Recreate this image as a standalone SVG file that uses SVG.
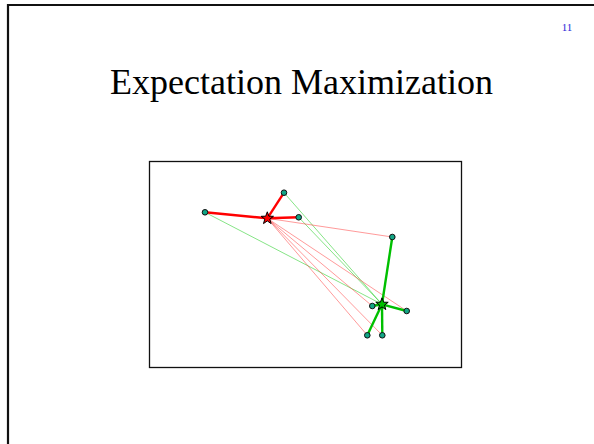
<svg xmlns="http://www.w3.org/2000/svg" width="594" height="444" viewBox="0 0 594 444">
<defs>
<style>
.frame{fill:none;stroke:#111;stroke-width:2.2}
.box{fill:none;stroke:#111;stroke-width:1.3}
.pt{fill:#12a585;stroke:#111;stroke-width:1}
.tr{stroke:#ff3030;stroke-opacity:0.55;stroke-width:0.9;fill:none}
.tg{stroke:#30d030;stroke-opacity:0.65;stroke-width:0.9;fill:none}
.kr{stroke:#ff0000;stroke-width:2.4;fill:none}
.kg{stroke:#00c000;stroke-width:2.4;fill:none}
.title{font-family:"Liberation Serif","Times New Roman",serif;font-size:36px;fill:#000}
.num{font-family:"Liberation Serif","Times New Roman",serif;font-size:11px;fill:#2828d8}
</style>
<polygon id="star" points="0,-6.5 1.6,-2.1 6.2,-2 2.5,0.8 3.8,5.3 0,2.6 -3.8,5.3 -2.5,0.8 -6.2,-2 -1.6,-2.1" stroke="#000" stroke-width="1"/>
</defs>
<rect width="594" height="444" fill="#fff"/>
<path class="frame" d="M8,444 V5 H594"/>
<text class="num" x="567" y="31" text-anchor="middle">11</text>
<text class="title" x="301.5" y="94" text-anchor="middle">Expectation Maximization</text>
<rect class="box" x="149.5" y="161.5" width="312" height="206"/>
<g id="connectors">
<line class="tg" x1="205" y1="212.3" x2="382" y2="304.3"/>
<line class="tg" x1="284" y1="192.7" x2="382" y2="304.3"/>
<line class="tg" x1="298.7" y1="217.3" x2="382" y2="304.3"/>
<line class="tr" x1="267.3" y1="218.3" x2="392.3" y2="237"/>
<line class="tr" x1="267.3" y1="218.3" x2="372.3" y2="306"/>
<line class="tr" x1="267.3" y1="218.3" x2="406.7" y2="311"/>
<line class="tr" x1="267.3" y1="218.3" x2="367.3" y2="335.3"/>
<line class="tr" x1="267.3" y1="218.3" x2="382.3" y2="335.3"/>
<line class="kr" x1="267.3" y1="218.3" x2="205" y2="212.3"/>
<line class="kr" x1="267.3" y1="218.3" x2="284" y2="192.7"/>
<line class="kr" x1="267.3" y1="218.3" x2="298.7" y2="217.3"/>
<line class="kg" x1="382" y1="304.3" x2="392.3" y2="237"/>
<line class="kg" x1="382" y1="304.3" x2="372.3" y2="306"/>
<line class="kg" x1="382" y1="304.3" x2="406.7" y2="311"/>
<line class="kg" x1="382" y1="304.3" x2="367.3" y2="335.3"/>
<line class="kg" x1="382" y1="304.3" x2="382.3" y2="335.3"/>
</g>
<g id="pA"><circle class="pt" cx="205" cy="212.3" r="2.8"/></g>
<g id="pB"><circle class="pt" cx="284" cy="192.7" r="2.8"/></g>
<g id="pC"><circle class="pt" cx="298.7" cy="217.3" r="2.8"/></g>
<g id="pD"><circle class="pt" cx="392.3" cy="237" r="2.8"/></g>
<g id="pE"><circle class="pt" cx="372.3" cy="306" r="2.8"/></g>
<g id="pF"><circle class="pt" cx="406.7" cy="311" r="2.8"/></g>
<g id="pG"><circle class="pt" cx="367.3" cy="335.3" r="2.8"/></g>
<g id="pH"><circle class="pt" cx="382.3" cy="335.3" r="2.8"/></g>
<g id="redCenter"><use href="#star" x="267.3" y="218.3" fill="#ff0000"/></g>
<g id="greenCenter"><use href="#star" x="382" y="304.3" fill="#00c000"/></g>
</svg>
